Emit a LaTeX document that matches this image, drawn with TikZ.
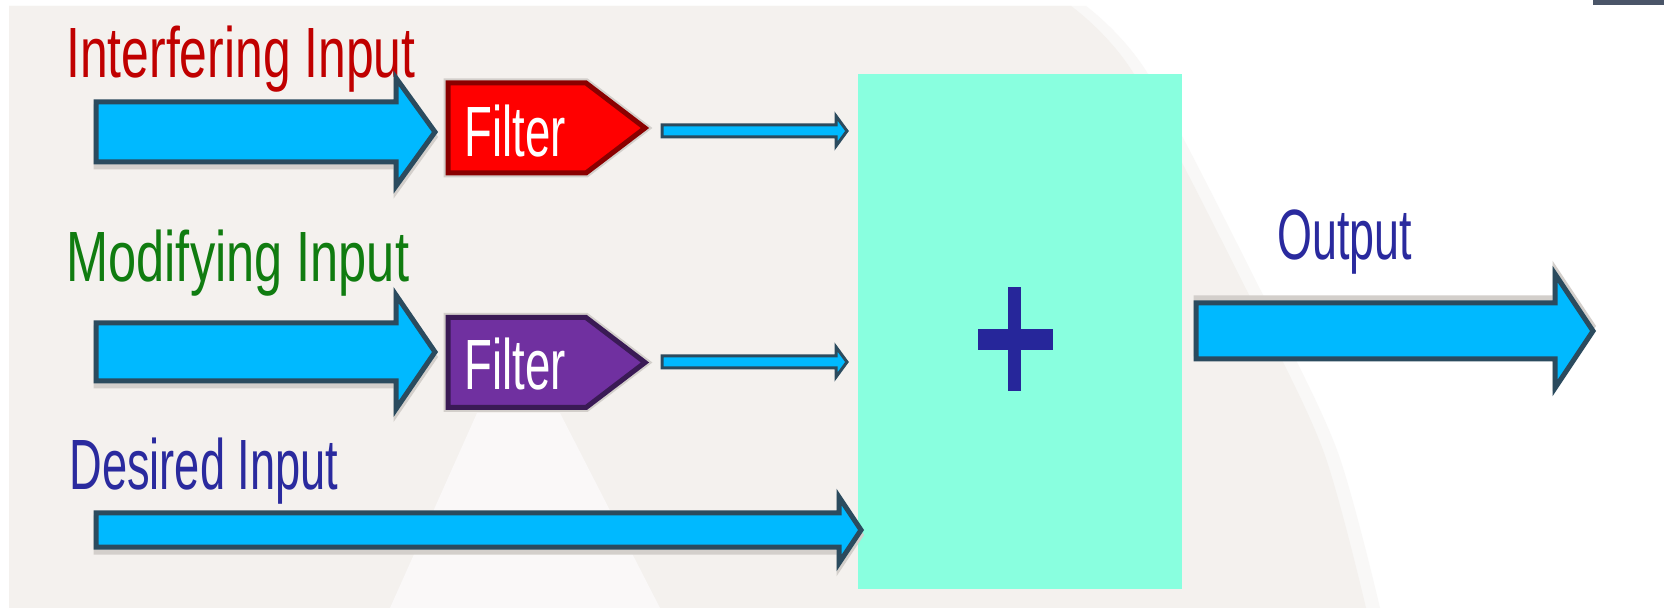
\documentclass[tikz,border=0pt]{standalone}
\usepackage{fontspec}
\setmainfont{Liberation Sans}
\usepackage{graphicx}
\definecolor{bg}{HTML}{F4F1EE}
\definecolor{paleW}{HTML}{FAF8F8}
\definecolor{arrowblue}{HTML}{00B9FF}
\definecolor{arrowborder}{HTML}{2B4B5E}
\definecolor{shadowgray}{HTML}{D3CFCB}
\definecolor{sumteal}{HTML}{89FFDF}
\definecolor{plusblue}{HTML}{26269A}
\definecolor{redtxt}{HTML}{C00000}
\definecolor{greentxt}{HTML}{107C10}
\definecolor{bluetxt}{HTML}{2A2A9E}
\definecolor{darkbar}{HTML}{4A5568}
\definecolor{filtred}{HTML}{FF0000}
\definecolor{filtredb}{HTML}{8A0000}
\definecolor{filtpurp}{HTML}{7030A0}
\definecolor{filtpurpb}{HTML}{3A1A55}
% block arrow: style, x0, x head, x tip, y centre, shaft half, head half
\newcommand\blockarrow[7]{%
  \path[#1] ({#2},{#5-#6}) -- ({#3},{#5-#6}) -- ({#3},{#5-#7}) -- ({#4},{#5})
    -- ({#3},{#5+#7}) -- ({#3},{#5+#6}) -- ({#2},{#5+#6}) -- cycle;}
% filter pentagon: y centre, fill, border
\newcommand\filtershape[3]{%
  \path[draw=shadowgray, line width=4.5pt] ({448},{#1-45}) -- ({586},{#1-45}) -- ({645},{#1})
    -- ({586},{#1+45}) -- ({448},{#1+45}) -- cycle;
  \path[fill=#2, draw=#3, line width=2.5pt] ({448},{#1-45}) -- ({586},{#1-45}) -- ({645},{#1})
    -- ({586},{#1+45}) -- ({448},{#1+45}) -- cycle;}
\begin{document}
\begin{tikzpicture}[x=0.5pt,y=-0.5pt,
  lbl/.style={anchor=base west, inner sep=0pt, font=\fontsize{35.6}{40}\selectfont},
  bigarrow/.style={fill=arrowblue, draw=arrowborder, line width=2.5pt},
  thinarrow/.style={fill=arrowblue, draw=arrowborder, line width=1.5pt},
  ashadow/.style={fill=shadowgray, draw=shadowgray, line width=2.5pt},
]
\useasboundingbox (0,0) rectangle (1664,608);
\fill[white] (0,0) rectangle (1664,608);
% background
\fill[bg!50!white] (9,6) -- plot[smooth] coordinates {(1086,6) (1148,74) (1265,299) (1337,450) (1380,608)} -- (9,608) -- cycle;
\fill[bg] (9,6) -- plot[smooth] coordinates {(1071,6) (1134,74) (1251,299) (1323,450) (1366,608)} -- (9,608) -- cycle;
\fill[paleW] (477,413) -- (560,413) -- (660,608) -- (390,608) -- cycle;
\fill[darkbar] (1593,0) rectangle (1664,5);

% summing block
\node[fill=sumteal, draw=none, inner sep=0pt, minimum width=162pt, minimum height=257.5pt] (sum) at (1020,331.5) {};
\fill[plusblue] (1008,287) rectangle (1021,391);
\fill[plusblue] (978,329) rectangle (1053,350);

% labels
\node[lbl, text=redtxt] (lint) at (66,78) {\scalebox{0.70}[1]{Interfering Input}};
\node[lbl, text=greentxt] (lmod) at (66,282) {\scalebox{0.71}[1]{Modifying Input}};
\node[lbl, text=bluetxt] (ldes) at (69,490) {\scalebox{0.635}[1]{Desired Input}};
\node[lbl, text=bluetxt] (lout) at (1277,260) {\scalebox{0.63}[1]{Output}};

% input arrows
\begin{scope}[shift={(0,5)}]
\blockarrow{ashadow}{96}{396}{435}{132}{30}{54}
\blockarrow{ashadow}{96}{396}{435}{352}{29}{57}
\blockarrow{ashadow}{96}{839}{861}{530}{17}{33}
\end{scope}
\blockarrow{bigarrow}{96}{396}{435}{132}{30}{54}
\blockarrow{bigarrow}{96}{396}{435}{352}{29}{57}
\blockarrow{bigarrow}{96}{839}{861}{530}{17}{33}

% filters
\filtershape{128}{filtred}{filtredb}
\filtershape{362.5}{filtpurp}{filtpurpb}
\node[lbl, text=white] (f1) at (464,157) {\scalebox{0.64}[1]{Filter}};
\node[lbl, text=white] (f2) at (464,390) {\scalebox{0.64}[1]{Filter}};

% thin arrows from filters to sum
\blockarrow{thinarrow}{662}{836}{847}{131}{6}{15}
\blockarrow{thinarrow}{662}{836}{847}{362}{6}{15}

% output arrow
\begin{scope}[shift={(0,-5)}]
\blockarrow{ashadow}{1196}{1555}{1593}{331}{28}{57}
\end{scope}
\blockarrow{bigarrow}{1196}{1555}{1593}{331}{28}{57}
\end{tikzpicture}
\end{document}
